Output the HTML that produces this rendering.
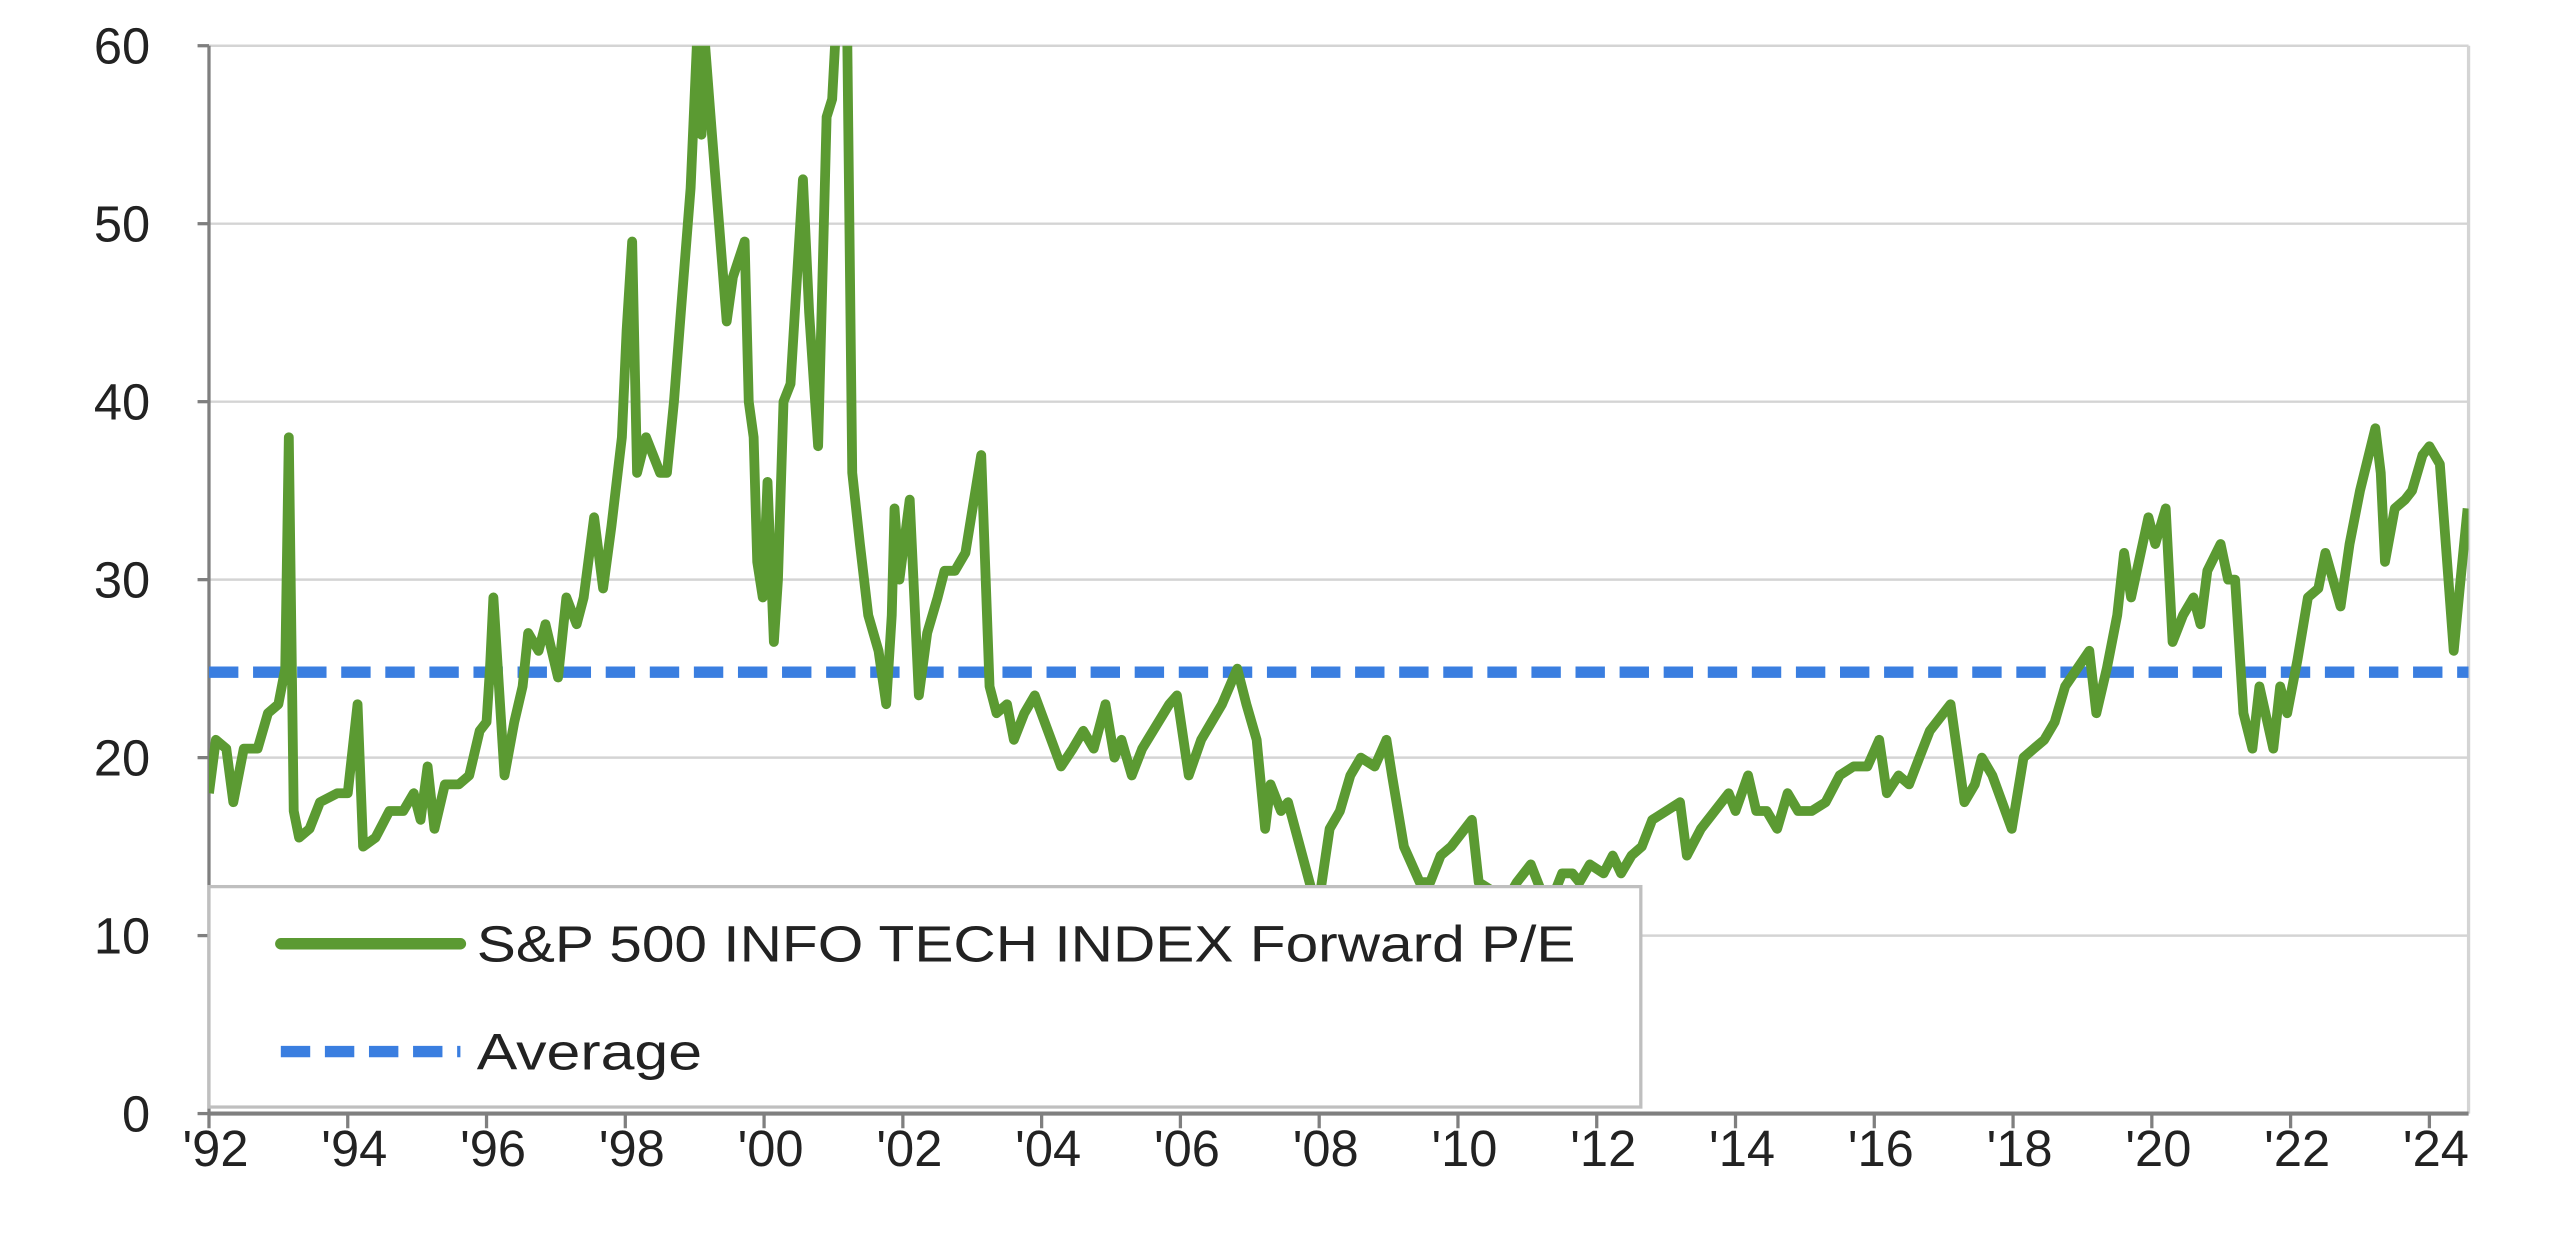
<!DOCTYPE html>
<html><head><meta charset="utf-8"><style>
html,body{margin:0;padding:0;background:#fff;}
svg{display:block;}
text{font-family:"Liberation Sans Narrow","Liberation Sans",sans-serif;fill:#222;}
</style></head><body>
<svg id="chart" width="2560" height="1254" viewBox="0 0 1568 768" preserveAspectRatio="none" xmlns="http://www.w3.org/2000/svg">
<defs><clipPath id="plotclip"><rect x="128" y="28" width="1384" height="654"/></clipPath></defs>
<g id="grid"></g>
<g id="axes"></g>
<g id="series" clip-path="url(#plotclip)"></g>
<g id="legend">
<rect x="128" y="543" width="877" height="135" fill="#fff" stroke="#bfbfbf" stroke-width="2"/>
<line x1="172" y1="578" x2="282" y2="578" stroke="#5b9a32" stroke-width="7" stroke-linecap="round"/>
<text x="292" y="589" font-size="31" textLength="673" lengthAdjust="spacingAndGlyphs">S&amp;P 500 INFO TECH INDEX Forward P/E</text>
<line x1="172" y1="644" x2="282" y2="644" stroke="#3a7ee0" stroke-width="7" stroke-dasharray="18 9"/>
<text x="292" y="655" font-size="31" textLength="138" lengthAdjust="spacingAndGlyphs">Average</text>
</g>
</svg>
<script>
const years=[1992,1992.1,1992.25,1992.35,1992.5,1992.7,1992.85,1993.0,1993.1,1993.15,1993.22,1993.3,1993.45,1993.6,1993.85,1994.0,1994.14,1994.22,1994.4,1994.6,1994.8,1994.95,1995.05,1995.15,1995.25,1995.4,1995.6,1995.75,1995.9,1996.0,1996.05,1996.1,1996.26,1996.4,1996.52,1996.6,1996.75,1996.85,1997.03,1997.15,1997.3,1997.4,1997.55,1997.68,1997.8,1997.95,1998.02,1998.1,1998.17,1998.3,1998.4,1998.5,1998.6,1998.7,1998.8,1998.94,1999.03,1999.1,1999.15,1999.25,1999.35,1999.46,1999.55,1999.72,1999.78,1999.85,1999.9,1999.98,2000.05,2000.14,2000.2,2000.28,2000.38,2000.56,2000.65,2000.78,2000.9,2000.98,2001.05,2001.1,2001.2,2001.27,2001.38,2001.5,2001.65,2001.76,2001.84,2001.88,2001.95,2002.1,2002.23,2002.35,2002.5,2002.6,2002.75,2002.9,2003.13,2003.25,2003.35,2003.5,2003.6,2003.75,2003.9,2004.28,2004.45,2004.6,2004.75,2004.92,2005.05,2005.15,2005.3,2005.45,2005.84,2005.95,2006.12,2006.3,2006.45,2006.6,2006.82,2006.95,2007.1,2007.22,2007.3,2007.45,2007.55,2007.93,2008.0,2008.15,2008.3,2008.45,2008.6,2008.8,2008.97,2009.05,2009.22,2009.45,2009.6,2009.75,2009.9,2010.2,2010.3,2010.5,2010.7,2010.85,2011.05,2011.2,2011.35,2011.5,2011.65,2011.75,2011.9,2012.1,2012.23,2012.35,2012.5,2012.65,2012.8,2013.2,2013.3,2013.5,2013.7,2013.9,2014.0,2014.18,2014.3,2014.45,2014.6,2014.75,2014.9,2015.1,2015.3,2015.5,2015.7,2015.9,2016.07,2016.18,2016.35,2016.5,2016.65,2016.8,2017.1,2017.3,2017.45,2017.55,2017.7,2017.98,2018.15,2018.3,2018.45,2018.6,2018.75,2019.1,2019.2,2019.35,2019.5,2019.6,2019.7,2019.95,2020.05,2020.2,2020.3,2020.45,2020.6,2020.7,2020.8,2020.99,2021.1,2021.2,2021.32,2021.45,2021.55,2021.75,2021.85,2021.95,2022.1,2022.25,2022.4,2022.5,2022.72,2022.85,2023.0,2023.22,2023.3,2023.36,2023.5,2023.65,2023.75,2023.9,2024.0,2024.15,2024.35,2024.45,2024.55];
const peValues=[18,21,20.5,17.5,20.5,20.5,22.5,23,25,38,17,15.5,16,17.5,18,18,23,15,15.5,17,17,18,16.5,19.5,16,18.5,18.5,19,21.5,22,25,29,19,22,24,27,26,27.5,24.5,29,27.5,29,33.5,29.5,33,38,44,49,36,38,37,36,36,40,45,52,60,55,60,55,50,44.5,47,49,40,38,31,29,35.5,26.5,30,40,41,52.5,45,37.5,56,57,62,63,60,36,32,28,26,23,28,34,30,34.5,23.5,27,29,30.5,30.5,31.5,37,24,22.5,23,21,22.5,23.5,19.5,20.5,21.5,20.5,23,20,21,19,20.5,23,23.5,19,21,22,23,25,23,21,16,18.5,17,17.5,12,12,16,17,19,20,19.5,21,19,15,13,13,14.5,15,16.5,13,12.5,12,13,14,12.5,12,13.5,13.5,13,14,13.5,14.5,13.5,14.5,15,16.5,17.5,14.5,16,17,18,17,19,17,17,16,18,17,17,17.5,19,19.5,19.5,21,18,19,18.5,20,21.5,23,17.5,18.5,20,19,16,20,20.5,21,22,24,26,22.5,25,28,31.5,29,33.5,32,34,26.5,28,29,27.5,30.5,32,30,30,22.5,20.5,24,20.5,24,22.5,25.5,29,29.5,31.5,28.5,32,35,38.5,36,31,34,34.5,35,37,37.5,36.5,26,30,34];
const averageValue=[24.8];
const yTicks=[0,10,20,30,40,50,60];
const xTickLabels=["'92","'94","'96","'98","'00","'02","'04","'06","'08","'10","'12","'14","'16","'18","'20","'22","'24"];
const xTickYears=[1992,1994,1996,1998,2000,2002,2004,2006,2008,2010,2012,2014,2016,2018,2020,2022,2024];

const NS='http://www.w3.org/2000/svg';
const L=128,R=1512,T=28,B=682;
const xS=y=>L+(y-1992)*42.5;
const yS=v=>B-(v/60)*(B-T);
function mk(tag,attrs,parent){const e=document.createElementNS(NS,tag);for(const k in attrs)e.setAttribute(k,attrs[k]);parent.appendChild(e);return e;}
const grid=document.getElementById('grid'),axes=document.getElementById('axes'),series=document.getElementById('series');
yTicks.forEach(t=>{
  if(t>0){const g=mk('line',{x1:L,x2:R,y1:yS(t),y2:yS(t),stroke:'#d4d4d4','stroke-width':1.5},grid);
  
  }
  const tk=mk('line',{x1:L-7,x2:L,y1:yS(t),y2:yS(t),stroke:'#7f7f7f','stroke-width':2},axes);
  
  
  const tx=mk('text',{x:L-36,y:yS(t)+11,'font-size':31,'text-anchor':'end'},axes);
  tx.textContent=t;
  
  
});
const rb=mk('line',{x1:R,x2:R,y1:T,y2:B,stroke:'#d4d4d4','stroke-width':2},grid);


const ya=mk('line',{x1:L,x2:L,y1:T,y2:B,stroke:'#7f7f7f','stroke-width':2},axes);


const xa=mk('line',{x1:L,x2:R,y1:B,y2:B,stroke:'#7f7f7f','stroke-width':2.5},axes);


xTickYears.forEach((yr,i)=>{
  const tk=mk('line',{x1:xS(yr),x2:xS(yr),y1:B,y2:B+9,stroke:'#7f7f7f','stroke-width':2},axes);
  
  
  const tx=mk('text',{x:xS(yr)+4,y:B+32,'font-size':31,'text-anchor':'middle'},axes);
  tx.textContent=xTickLabels[i];
  
  
});
const avg=mk('line',{x1:L,x2:R,y1:yS(averageValue[0]),y2:yS(averageValue[0]),stroke:'#3a7ee0','stroke-width':7,'stroke-dasharray':'18 9'},series);


const pts=years.map((y,i)=>xS(y).toFixed(1)+','+yS(peValues[i]).toFixed(1)).join(' ');
const pl=mk('polyline',{points:pts,fill:'none',stroke:'#5b9a32','stroke-width':6,'stroke-linejoin':'round'},series);


</script>
</body></html>
